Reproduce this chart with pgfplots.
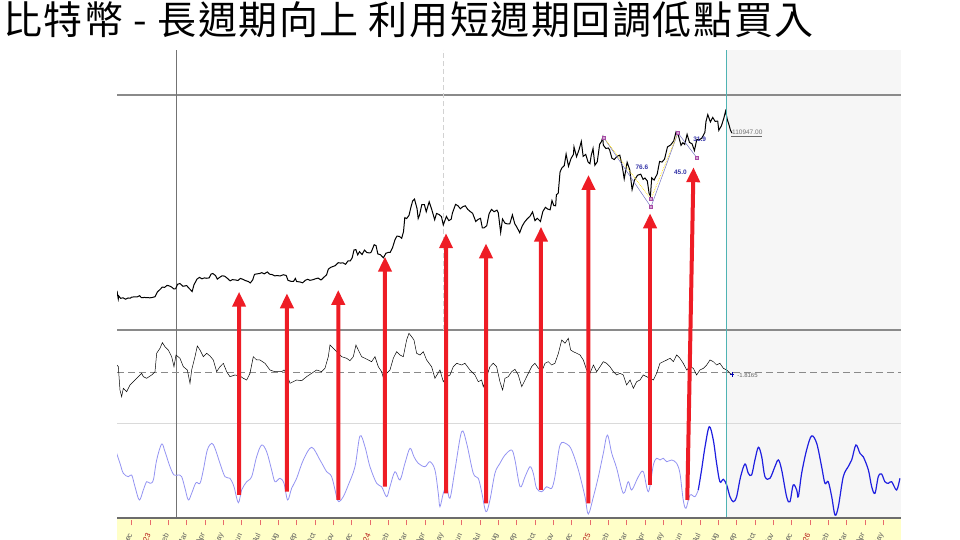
\documentclass[border=0pt]{standalone}
\usepackage{pgfplots}
\pgfplotsset{compat=1.18}
\usetikzlibrary{arrows.meta}
\usepackage{fontspec}
\setmainfont{Liberation Sans}
\newfontfamily\cjk[LetterSpace=4]{Noto Sans CJK TC}
\definecolor{framegray}{HTML}{8A8A8A}
\definecolor{lightsep}{HTML}{DADADA}
\definecolor{futurebg}{HTML}{F6F6F6}
\definecolor{nowcyan}{HTML}{4FB3B3}
\definecolor{stripyellow}{HTML}{FFFFC8}
\definecolor{tickred}{HTML}{E86A6A}
\definecolor{yearred}{HTML}{B01010}
\definecolor{cyclelight}{HTML}{9393F2}
\definecolor{cycledark}{HTML}{1F1FE0}
\definecolor{arrowred}{HTML}{EE1C25}
\definecolor{fibblue}{HTML}{3535A8}

\begin{document}
\begin{tikzpicture}
\useasboundingbox (0pt,0pt) rectangle (960pt,540pt);

% title
\node[anchor=base west, inner sep=0pt] at (3pt,505pt)
  {\cjk\fontsize{39}{44}\selectfont 比特幣 - 長週期向上 利用短週期回調低點買入};

% frame: future shading, date strip, separators
\fill[futurebg] (726pt,23pt) rectangle (901pt,490pt);
\fill[stripyellow] (117pt,0pt) rectangle (901pt,21pt);
\draw[framegray, line width=1.3pt] (117pt,445pt) -- (901pt,445pt);
\draw[framegray, line width=1.3pt] (117pt,210pt) -- (901pt,210pt);
\draw[lightsep, line width=1pt] (117pt,116pt) -- (901pt,116pt);
\draw[gray!85!black, line width=2pt] (117pt,22pt) -- (901pt,22pt);
\draw[gray!90!black, line width=0.9pt] (176pt,23pt) -- (176pt,490pt);
\draw[gray!35, line width=0.8pt, dash pattern=on 5pt off 3pt] (443pt,210pt) -- (443pt,490pt);
\draw[framegray, line width=1.2pt, dash pattern=on 7pt off 4pt] (117pt,167.3pt) -- (901pt,167.3pt);

\pgfplotsset{panel/.style={scale only axis, width=784pt, xmin=-1.8, xmax=40.97,
  axis lines=none, ticks=none, anchor=south west}}

% price panel (thousand USD)
\begin{axis}[panel, at={(117pt,210pt)}, height=280pt, ymin=-1.83, ymax=158.5]
\addplot[black, line width=1pt] coordinates {
(-1.8,20.6)(-1.77,18.5)(-1.73,15.9)(-1.7,17.6)(-1.6,16.3)(-1.47,16.6)(-1.33,15.8)(-1.2,16.5)
(-1.07,16.4)(-1.0,17.0)(-0.87,17.1)(-0.7,17.1)(-0.57,17.8)(-0.47,16.7)(-0.3,16.8)(-0.13,16.7)
(0,16.6)(0.13,16.8)(0.27,17.2)(0.4,19.9)(0.53,21.2)(0.67,22.7)(0.8,22.6)(0.93,23.7)
(1.03,23.5)(1.17,22.8)(1.3,21.7)(1.4,21.8)(1.5,24.3)(1.63,24.8)(1.8,23.2)(2.0,23.6)
(2.1,22.4)(2.3,20.2)(2.4,24.1)(2.57,27.4)(2.7,28.3)(2.83,27.5)(2.97,28.0)(3.07,27.8)
(3.23,28.0)(3.33,30.2)(3.43,30.5)(3.57,29.4)(3.67,27.3)(3.8,28.3)(3.93,29.2)(4.07,29.0)
(4.23,27.7)(4.37,26.3)(4.5,27.0)(4.67,26.8)(4.8,26.5)(4.93,27.7)(5.07,27.2)(5.2,26.5)
(5.37,25.9)(5.47,25.1)(5.6,26.8)(5.7,30.0)(5.83,30.3)(5.97,30.5)(6.1,31.0)(6.23,30.3)
(6.4,31.4)(6.53,30.1)(6.67,29.9)(6.8,29.2)(6.97,29.3)(7.1,29.1)(7.27,29.8)(7.43,29.4)
(7.53,26.6)(7.7,26.0)(7.83,26.0)(7.93,27.7)(8.0,25.9)(8.17,25.7)(8.33,25.2)(8.47,26.6)
(8.6,27.2)(8.73,26.6)(8.9,27.0)(9.03,27.5)(9.17,27.9)(9.33,26.8)(9.5,28.5)(9.63,29.7)
(9.73,33.0)(9.87,34.1)(10.0,34.6)(10.1,35.0)(10.27,36.7)(10.4,36.5)(10.53,36.6)(10.67,35.8)
(10.8,37.7)(10.93,37.8)(11.03,39.5)(11.13,44.0)(11.23,44.2)(11.33,41.2)(11.43,43.0)(11.57,41.4)
(11.7,43.9)(11.83,42.5)(12.0,42.3)(12.07,42.8)(12.23,47.0)(12.33,46.5)(12.43,41.7)(12.57,41.3)
(12.73,39.5)(12.87,42.1)(13.0,42.6)(13.1,42.6)(13.23,45.3)(13.37,50.0)(13.47,51.9)(13.6,51.8)
(13.73,50.7)(13.83,54.5)(13.9,62.5)(14.0,62.0)(14.13,63.8)(14.23,68.3)(14.33,72.1)(14.43,73.1)
(14.57,67.6)(14.63,62.0)(14.7,63.8)(14.83,70.0)(14.97,69.9)(15.07,65.9)(15.23,71.6)(15.37,67.2)
(15.53,61.3)(15.63,64.9)(15.77,64.3)(15.9,63.1)(16.0,58.3)(16.17,63.2)(16.3,60.8)(16.43,61.6)
(16.5,65.2)(16.67,70.1)(16.8,69.3)(16.93,67.6)(17.07,68.8)(17.2,69.3)(17.33,67.3)(17.47,66.0)
(17.6,65.0)(17.77,60.3)(17.9,61.5)(18.03,62.1)(18.13,56.6)(18.23,56.7)(18.37,57.9)(18.5,64.8)
(18.63,67.2)(18.77,65.9)(18.93,66.8)(19.0,65.3)(19.13,54.0)(19.23,61.7)(19.37,59.3)(19.5,58.9)
(19.63,59.0)(19.77,64.1)(19.9,59.0)(20.0,57.3)(20.17,53.9)(20.3,57.6)(20.43,59.9)(20.57,61.7)
(20.73,63.3)(20.87,65.8)(21.0,60.8)(21.13,62.1)(21.3,60.3)(21.43,66.0)(21.57,68.4)(21.7,67.4)
(21.83,67.0)(21.93,72.3)(22.03,69.4)(22.13,69.3)(22.17,75.6)(22.27,76.5)(22.37,88.7)(22.47,91.0)
(22.6,92.3)(22.7,98.9)(22.83,91.9)(22.97,96.4)(23.1,98.7)(23.13,103.0)(23.27,97.4)(23.4,101.2)
(23.53,106.1)(23.63,97.6)(23.77,98.7)(23.9,94.3)(24.0,93.4)(24.07,98.1)(24.17,102.1)(24.27,92.5)
(24.4,94.5)(24.53,104.5)(24.63,106.1)(24.7,108.5)(24.73,104.0)(24.87,102.1)(25.0,102.4)(25.07,101.4)
(25.2,96.5)(25.33,95.8)(25.47,97.6)(25.63,98.3)(25.77,91.4)(25.87,84.7)(26.03,94.2)(26.17,90.0)
(26.3,78.5)(26.43,84.0)(26.6,86.8)(26.77,87.4)(26.9,84.4)(27.0,85.2)(27.13,83.5)(27.23,76.3)
(27.3,74.8)(27.37,85.3)(27.5,84.0)(27.67,87.5)(27.8,94.7)(27.93,94.3)(28.07,96.0)(28.23,103.0)
(28.4,104.1)(28.57,106.4)(28.7,111.7)(28.83,109.4)(28.97,103.9)(29.07,105.4)(29.17,104.4)(29.3,110.2)
(29.43,105.6)(29.57,104.8)(29.7,100.9)(29.83,107.3)(29.97,107.1)(30.1,108.0)(30.27,111.3)(30.33,117.5)
(30.43,121.5)(30.57,117.3)(30.7,119.9)(30.83,117.6)(30.97,117.8)(31.03,112.5)(31.17,115.0)(31.3,119.3)
(31.4,123.5)(31.5,118.4)(31.57,116.2)(31.67,112.5)(31.75,110.9)
};
% swing legs and retracement marks
\addplot[fibblue!70, line width=0.5pt] coordinates {(24.77,108.1)(27.33,68.6)(28.8,111.0)(29.84,96.7)};
\addplot[yellow!80!orange, line width=0.7pt, densely dotted] coordinates {(24.77,108.1)(27.33,73.2)(28.8,111.0)};
\addplot[only marks, mark=square*, mark size=1.4pt, mark options={fill=violet!35, draw=violet!70}]
  coordinates {(24.77,108.1)(27.33,73.2)(27.33,68.6)(28.8,111.0)(29.84,96.7)};
\node[text=fibblue, font=\bfseries\fontsize{6.5}{7}\selectfont, anchor=west] at (axis cs:26.3,91.5) {76.6};
\node[text=fibblue, font=\bfseries\fontsize{6.5}{7}\selectfont, anchor=west] at (axis cs:28.4,88.7) {45.0};
\node[text=fibblue, font=\bfseries\fontsize{6.5}{7}\selectfont, anchor=west] at (axis cs:29.45,107.2) {31.9};
\addplot[gray!80!black, line width=0.6pt] coordinates {(31.7,109.3)(33.4,109.3)};
\node[text=gray!90!black, font=\fontsize{6.5}{7}\selectfont, anchor=south west, inner sep=0.5pt]
  at (axis cs:31.72,109.6) {110947.00};
% arrow tips
\coordinate (t1) at (axis cs:4.86,20.1);
\coordinate (t2) at (axis cs:7.47,19.2);
\coordinate (t3) at (axis cs:10.27,21.1);
\coordinate (t4) at (axis cs:12.82,40.2);
\coordinate (t5) at (axis cs:16.15,53.6);
\coordinate (t6) at (axis cs:18.33,47.8);
\coordinate (t7) at (axis cs:21.33,57.3);
\coordinate (t8) at (axis cs:23.92,87.0);
\coordinate (t9) at (axis cs:27.28,65.0);
\coordinate (t10) at (axis cs:29.65,91.4);
\end{axis}

% oscillator panel
\begin{axis}[panel, at={(117pt,116pt)}, height=94pt, ymin=-51.3, ymax=42.7]
\addplot[black, line width=0.5pt] coordinates {
(-1.818,7.7)(-1.727,6.0)(-1.637,-17.3)(-1.546,-24.0)(-1.455,-15.6)(-1.273,-19.0)(-1.091,-12.3)
(-0.909,-9.0)(-0.727,-5.6)(-0.455,-0.6)(-0.364,-4.0)(-0.182,-5.6)(0.091,-2.3)(0.273,1.0)
(0.364,19.4)(0.545,24.4)(0.673,30.0)(0.818,26.0)(1.0,22.7)(1.182,16.0)(1.309,6.0)(1.418,17.7)
(1.636,14.4)(1.818,6.0)(2.036,2.7)(2.182,-10.6)(2.273,2.7)(2.455,16.0)(2.582,26.7)(2.727,22.7)
(2.909,16.0)(3.091,19.4)(3.273,16.7)(3.455,12.7)(3.636,1.0)(3.818,6.0)(4.0,9.4)(4.182,1.0)
(4.364,-4.0)(4.636,-2.3)(4.909,-3.3)(5.091,-5.6)(5.273,-7.3)(5.364,-4.0)(5.455,-0.6)(5.636,16.0)
(5.818,12.7)(6.0,12.7)(6.273,9.4)(6.545,2.7)(6.818,1.0)(7.182,1.0)(7.309,2.7)(7.455,-0.6)
(7.636,-10.6)(7.818,-9.0)(8.0,-7.3)(8.273,-8.0)(8.545,-4.0)(8.818,-0.6)(9.091,2.7)(9.364,1.0)
(9.545,4.4)(9.727,16.0)(9.818,27.7)(10.0,24.4)(10.182,21.0)(10.455,16.0)(10.727,14.4)(10.909,12.0)
(11.091,16.0)(11.236,27.7)(11.364,22.7)(11.545,16.0)(11.727,14.4)(11.909,12.7)(12.091,11.0)(12.273,16.0)
(12.455,6.0)(12.636,1.0)(12.764,-7.3)(12.909,-0.6)(13.091,2.7)(13.273,14.4)(13.455,21.0)(13.636,17.7)
(13.818,16.0)(14.0,32.7)(14.127,39.4)(14.273,36.0)(14.4,32.7)(14.545,19.4)(14.727,17.7)(14.909,21.0)
(15.091,12.7)(15.364,6.0)(15.545,-5.6)(15.818,2.7)(16.0,-9.0)(16.182,-4.0)(16.364,-2.3)(16.545,6.0)
(16.727,9.4)(17.0,7.7)(17.182,9.4)(17.455,2.7)(17.727,-2.3)(17.909,-9.0)(18.091,-7.3)(18.182,-14.0)
(18.364,-4.0)(18.545,6.0)(18.727,9.4)(18.909,6.0)(19.091,-9.0)(19.236,-17.3)(19.364,-5.6)(19.545,-4.0)
(19.73,1.0)(19.91,3.4)(20.09,-2.3)(20.28,-14.0)(20.46,-7.3)(20.64,-0.6)(20.82,6.0)(21.0,9.4)
(21.19,4.4)(21.37,1.0)(21.55,9.4)(21.73,11.0)(21.91,7.7)(22.09,9.4)(22.28,19.4)(22.46,32.7)
(22.64,29.4)(22.82,34.4)(22.95,22.7)(23.09,21.0)(23.28,19.4)(23.46,17.7)(23.64,12.7)(23.82,2.7)
(24.0,-0.6)(24.19,7.7)(24.37,1.0)(24.55,6.0)(24.73,11.0)(24.91,9.4)(25.09,6.0)(25.28,1.0)
(25.46,-2.3)(25.64,-0.6)(25.82,-2.3)(26.0,-12.3)(26.19,-7.3)(26.37,-15.6)(26.55,-9.0)(26.73,-7.3)
(26.91,-2.3)(27.09,-4.0)(27.28,-5.6)(27.46,-7.3)(27.64,-0.6)(27.82,9.4)(28.0,11.0)(28.19,12.7)
(28.37,14.4)(28.55,11.0)(28.73,17.7)(28.91,14.4)(29.09,9.4)(29.28,2.7)(29.46,6.0)(29.64,4.4)
(29.82,-2.3)(30.0,2.7)(30.19,4.4)(30.37,7.7)(30.55,12.7)(30.73,11.0)(30.91,7.7)(31.09,9.4)
(31.28,4.4)(31.46,2.7)(31.64,-0.6)(31.77,-1.8)
};
\addplot[only marks, mark=+, mark size=2.2pt, draw=blue!70!black, line width=0.9pt]
  coordinates {(31.75,-1.8)};
\node[text=gray!80!black, font=\fontsize{6}{7}\selectfont, anchor=west, inner sep=0.5pt]
  at (axis cs:32.0,-2.6) {-1.8165};
\end{axis}

% cycle panel
\begin{axis}[panel, at={(117pt,23pt)}, height=93pt, ymin=-47, ymax=46]
\addplot[cyclelight, line width=0.8pt, smooth, tension=0.55] coordinates {
(-1.818,16.7)(-1.637,6.7)(-1.455,-3.3)(-1.182,-6.7)(-1.0,-5.0)(-0.818,-16.7)(-0.582,-30.0)
(-0.364,-20.0)(-0.182,-11.7)(0.0,-13.3)(0.182,-10.0)(0.364,10.0)(0.636,26.0)(0.818,18.3)
(1.091,3.3)(1.309,-5.0)(1.545,-5.0)(1.727,-6.7)(1.909,-18.3)(2.091,-30.0)(2.273,-23.3)
(2.509,-12.7)(2.727,-13.3)(2.909,0.0)(3.127,20.0)(3.364,26.7)(3.545,21.7)(3.818,6.7)
(4.091,-6.7)(4.364,-8.3)(4.582,-16.7)(4.818,-32.7)(5.0,-20.0)(5.273,-11.7)(5.545,-6.7)
(5.818,13.3)(6.091,25.0)(6.364,18.3)(6.636,0.0)(6.818,-11.7)(7.091,-8.3)(7.309,-13.3)
(7.509,-30.0)(7.727,-18.3)(8.0,-8.3)(8.364,10.0)(8.818,22.7)(9.273,10.0)(9.636,-1.7)
(9.909,-6.7)(10.182,-26.7)(10.309,-31.7)(10.545,-26.7)(10.818,-15.0)(11.182,3.3)(11.455,34.0)
(11.727,23.3)(12.0,3.3)(12.364,-13.3)(12.636,-16.7)(12.909,-26.7)(13.091,-16.7)(13.364,-1.7)
(13.636,-10.0)(13.909,6.7)(14.182,21.7)(14.4,13.3)(14.636,6.7)(15.0,3.3)(15.273,8.3)
(15.545,0.0)(15.727,-23.3)(15.818,-36.7)(16.0,-23.3)(16.182,-16.7)(16.364,-28.3)(16.636,0.0)
(17.0,38.3)(17.273,26.7)(17.636,-3.3)(17.909,-8.3)(18.091,-21.7)(18.327,-41.7)(18.545,-30.0)
(18.818,-3.3)(19.091,6.7)(19.37,15.0)(19.73,20.0)(19.91,10.0)(20.19,-16.7)(20.46,-6.7)
(20.73,3.3)(20.91,-3.3)(21.09,-18.3)(21.37,-21.7)(21.64,-16.7)(21.91,-18.3)(22.09,-6.7)
(22.37,25.0)(22.73,26.0)(23.0,20.0)(23.37,0.0)(23.73,-26.7)(23.91,-44.0)(24.19,-26.7)
(24.46,-6.7)(24.73,16.7)(24.95,35.0)(25.19,16.7)(25.46,1.7)(25.82,-23.3)(26.09,-11.7)
(26.28,-20.0)(26.64,-6.7)(26.91,-1.7)(27.19,-21.7)(27.46,5.0)(27.64,11.7)(27.82,10.0)
(28.0,11.7)(28.19,8.3)(28.46,10.0)(28.73,6.7)(28.91,-3.3)(29.09,-30.0)(29.24,-38.3)
(29.46,-25.0)(29.73,-26.7)(29.91,-20.0)
};
\addplot[cycledark, line width=1.2pt, smooth, tension=0.55] coordinates {
(29.91,-20.0)(30.09,0.0)(30.28,23.3)(30.51,43.3)(30.73,30.0)(30.91,6.7)(31.09,-11.7)
(31.28,-9.3)(31.46,-15.0)(31.64,-26.7)(31.82,-31.7)(32.0,-26.7)(32.22,-6.7)(32.46,6.0)
(32.64,-3.3)(32.82,-5.0)(33.0,10.0)(33.19,22.7)(33.37,13.3)(33.55,-6.7)(33.82,-8.3)
(34.09,3.3)(34.28,10.0)(34.46,0.0)(34.73,-26.7)(34.91,-31.7)(35.09,-15.0)(35.28,-20.0)
(35.37,-26.7)(35.55,-3.3)(35.82,20.0)(36.09,34.0)(36.37,26.7)(36.64,3.3)(36.82,-13.3)
(37.0,-11.7)(37.19,-26.7)(37.37,-45.0)(37.55,-36.7)(37.82,-6.7)(38.09,3.3)(38.28,10.0)
(38.51,25.0)(38.73,16.7)(38.91,13.3)(39.19,0.0)(39.37,-16.7)(39.55,-23.3)(39.73,-6.7)
(39.91,-4.0)(40.09,-11.7)(40.28,-13.3)(40.46,-11.7)(40.73,-20.0)(40.91,-8.3)
};
% arrow tails
\coordinate (b1) at (axis cs:4.86,-25);
\coordinate (b2) at (axis cs:7.47,-21.7);
\coordinate (b3) at (axis cs:10.27,-30);
\coordinate (b4) at (axis cs:12.82,-16.7);
\coordinate (b5) at (axis cs:16.15,-23.3);
\coordinate (b6) at (axis cs:18.33,-33.3);
\coordinate (b7) at (axis cs:21.33,-20);
\coordinate (b8) at (axis cs:23.92,-33.3);
\coordinate (b9) at (axis cs:27.28,-15);
\coordinate (b10) at (axis cs:29.31,-30);
\end{axis}

% date strip
\begin{axis}[scale only axis, width=784pt, height=7pt, at={(117pt,14.5pt)}, anchor=south west,
  xmin=-1.8, xmax=40.97, ymin=0, ymax=1,
  axis x line*=bottom, hide y axis, axis line style={draw=none},
  tick align=inside, major tick length=5pt,
  x tick style={tickred, line width=0.7pt},
  xtick={-1,0,...,40},
  xticklabels={Dec,{\color{yearred}2023},Feb,Mar,Apr,May,Jun,Jul,Aug,Sep,Oct,Nov,Dec,
    {\color{yearred}2024},Feb,Mar,Apr,May,Jun,Jul,Aug,Sep,Oct,Nov,Dec,
    {\color{yearred}2025},Feb,Mar,Apr,May,Jun,Jul,Aug,Sep,Oct,Nov,Dec,
    {\color{yearred}2026},Feb,Mar,Apr,May},
  xticklabel style={yshift=-7pt, xshift=-1pt, rotate=65, anchor=east, inner sep=1pt,
    font=\fontsize{7.5}{8}\selectfont, text=gray!70!black},
]
\addplot[draw=none] coordinates {(0,0)};
\end{axis}

% now line
\draw[nowcyan, line width=1pt] (726pt,23pt) -- (726pt,490pt);

% arrows from cycle lows to price lows
\foreach \i in {1,...,10}
  \draw[arrowred, line width=4pt, -{Triangle[width=13pt,length=15pt]}] (b\i) -- (t\i);
\end{tikzpicture}
\end{document}
